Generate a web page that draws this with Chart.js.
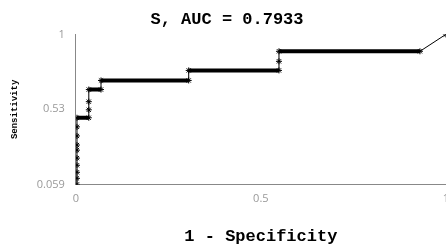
<!DOCTYPE html>
<html lang="en">
<head>
    <meta charset="UTF-8">
    <title>ROC curve S</title>
    <script src="https://cdn.jsdelivr.net/npm/chart.js"></script>
    <style>
        html, body { margin: 0; padding: 0; overflow: hidden; background: #fff; }
        #wrap { position: relative; width: 454px; height: 251px; }
    </style>
</head>
<body>
    <div id="wrap"><canvas id="rocChart"></canvas></div>

    <script>
        // ROC points (1 - specificity, sensitivity)
        const fpr = [0.003, 0.003, 0.003, 0.003, 0.003, 0.003, 0.003, 0.003, 0.003, 0.003,
                     0.035, 0.035, 0.035, 0.035,
                     0.068, 0.068,
                     0.305, 0.305,
                     0.549, 0.549, 0.549,
                     0.93, 1.0];
        const tpr = [0.059, 0.097, 0.135, 0.179, 0.224, 0.274, 0.306, 0.363, 0.42, 0.477,
                     0.477, 0.527, 0.578, 0.654,
                     0.654, 0.711,
                     0.711, 0.774,
                     0.774, 0.831, 0.894,
                     0.894, 1.0];

        const xTicks = [0, 0.5, 1];
        const yTicks = [0.059, 0.53, 1];
        const yTickLabels = ['0.059', '0.53', '1'];

        const titleText = 'S, AUC = 0.7933';
        const xTitle = '1 - Specificity';
        const yTitle = 'Sensitivity';

        const points = fpr.map((x, i) => ({ x: x, y: tpr[i] }));
        const mono = 'Liberation Mono, Courier New, monospace';

        const ctx = document.getElementById('rocChart').getContext('2d');
        new Chart(ctx, {
            type: 'line',
            data: {
                datasets: [{
                    label: 'S',
                    data: points,
                    borderColor: '#000',
                    borderWidth: 1,
                    pointStyle: 'star',
                    pointRadius: 3,
                    pointBorderWidth: 1,
                    pointBorderColor: '#000',
                    pointBackgroundColor: '#000',
                    // horizontal steps look like a thick band of markers
                    segment: {
                        borderWidth: c => (c.p0.parsed.y === c.p1.parsed.y ? 4 : 1)
                    }
                }]
            },
            options: {
                responsive: true,
                maintainAspectRatio: false,
                animation: false,
                layout: { padding: { left: 0, right: 0, top: 0, bottom: 4 } },
                scales: {
                    x: {
                        type: 'linear',
                        min: 0,
                        max: 1,
                        afterBuildTicks: s => { s.ticks = xTicks.map(v => ({ value: v })); },
                        ticks: {
                            color: '#999',
                            font: { family: 'Open Sans, sans-serif', size: 11 },
                            padding: 5,
                            callback: v => String(v)
                        },
                        grid: { display: false, drawTicks: true, tickLength: 3, color: '#888' },
                        border: { display: true, color: '#888', width: 1 },
                        title: {
                            display: true,
                            text: xTitle,
                            color: '#000',
                            font: { family: mono, size: 17, weight: 'bold' },
                            padding: { top: 16, bottom: 0 }
                        }
                    },
                    y: {
                        type: 'linear',
                        min: 0.059,
                        max: 1,
                        afterBuildTicks: s => { s.ticks = yTicks.map(v => ({ value: v })); },
                        ticks: {
                            color: '#999',
                            font: { family: 'Open Sans, sans-serif', size: 11 },
                            padding: 8,
                            callback: (v, i) => yTickLabels[i]
                        },
                        grid: { display: false, tickLength: 3, color: '#888' },
                        border: { display: true, color: '#888', width: 1 },
                        title: {
                            display: true,
                            text: yTitle,
                            color: '#000',
                            font: { family: mono, size: 9, weight: 'bold' },
                            padding: { top: 9, bottom: 9 }
                        }
                    }
                },
                plugins: {
                    legend: { display: false },
                    tooltip: { enabled: false },
                    title: {
                        display: true,
                        text: titleText,
                        color: '#000',
                        font: { family: mono, size: 17, weight: 'bold' },
                        padding: { top: 10, bottom: 4 }
                    }
                }
            }
        });
    </script>
</body>
</html>
